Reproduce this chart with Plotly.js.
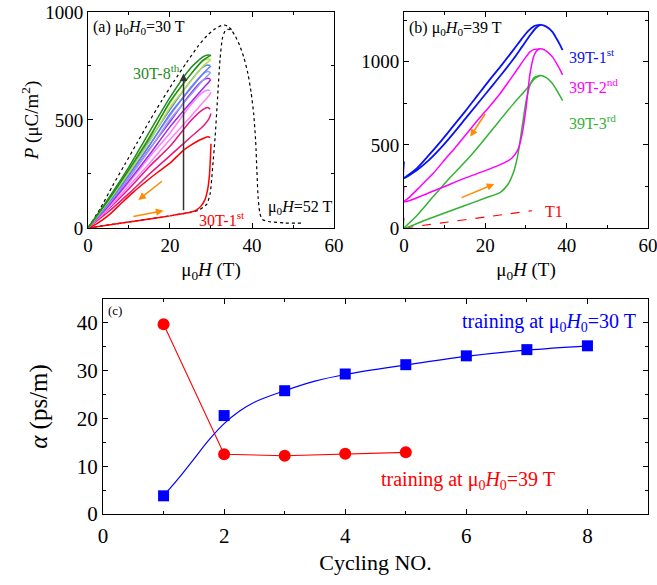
<!DOCTYPE html>
<html><head><meta charset="utf-8">
<script src="https://cdn.plot.ly/plotly-3.0.1.min.js"></script>
<style>html,body{margin:0;padding:0;background:#fff}#plot{width:657px;height:585px}</style>
</head><body><div id="plot"></div>
<script>
// ---------- Panel (a): training at 30 T ----------
const aUpH = [0,5,10,15,20,25,28,29.5,30];
const aDnH = [29.8,29.2,28,25,20,15,10,5,0];
const c2Up = [0,75,160,250,335,420,470,505,530];
const c2Dn = [550,558,548,495,378,285,182,88,0];
const c3Up = [0,92,195,300,410,515,580,612,628];
const c3Dn = [636,639,628,568,440,328,210,100,0];
const c4Up = [0,102,218,340,468,580,645,676,688];
const c4Dn = [690,693,683,622,492,365,232,108,0];
const c5Up = [0,110,233,362,502,615,683,712,720];
const c5Dn = [721,724,713,650,520,385,244,115,0];
const c6Up = [0,116,246,382,528,645,713,742,750];
const c6Dn = [752,755,745,680,548,405,256,121,0];
const c7Up = [0,124,258,400,558,678,748,772,780];
const c7Dn = [780,782,773,710,578,425,270,129,0];
const c8Up = [0,130,270,418,585,710,776,795,800];
const c8Dn = [800,801,792,740,605,445,283,137,0];
const redUpH = [0,5,10,15,20,23,25,26.5,27.5,28.5,29.2,29.6,29.85,30];
const redUpP = [0,14,28,42,56,66,73,84,100,130,180,240,320,390];
const redDnH = [29.8,29.3,28.5,27,25,23,20,17,14,11,8,5,2,0];
const redDnP = [418,422,418,405,382,355,300,258,213,165,112,58,18,0];
const dashUpH = [0,10,20,25,27,28,29,29.8,30.4,31,31.6,32.2,32.8,33.5,34.2,35,36,37,38,39,39.8,40.4,40.9,41.2,41.5,41.9,42.5,44,48,52];
const dashUpP = [0,28,56,73,82,95,110,160,280,420,600,780,880,915,920,915,885,845,790,715,625,530,400,260,140,70,40,30,23,22];
const dashDnH = [35,34,33,31,29,27,24,21,18,15,12,9,6,3,0];
const dashDnP = [918,935,940,922,890,845,765,680,590,495,395,295,195,90,0];

// ---------- Panel (b): training at 39 T ----------
const b1UpH = [0,0,3,6,9,12,15,18,21,24,27,29,31,32.5,33.6,35,36.5,37.5,38.3,39];
const b1UpP = [400,300,345,405,480,565,655,745,835,925,1020,1090,1160,1205,1222,1212,1180,1140,1105,1070];
const b1DnH = [33.6,32,30.5,29,27,24,21,18,15,12,9,6,3,0];
const b1DnP = [1224,1215,1185,1140,1075,980,890,795,700,610,520,435,355,300];
const b2UpH = [0,0,5,10,15,20,24.5,26.5,28,29,30,31,32,33,34,35,36.5,38,39];
const b2UpP = [250,158,200,250,300,345,390,420,470,560,720,930,1040,1075,1077,1065,1030,970,922];
const b2DnH = [33.3,32,31,30,28,26,23.7,21,18,15.5,13,10,7.2,4,1.5,0];
const b2DnP = [1077,1075,1060,1030,960,890,811,730,645,570,495,410,329,250,189,160];
const b3UpH = [0,0,5,10,15,20,23.7,25.5,27,28,29,30,31,32,33.5,35,36.5,38,39];
const b3UpP = [60,0,45,90,135,180,215,260,340,440,600,760,860,905,918,905,870,810,767];
const b3DnH = [33.5,32,30.3,27,23.7,19,15.5,11,7.2,3,0];
const b3DnP = [918,895,841,750,652,510,410,295,189,70,0];
const t1H = [0,10,20,31.5];
const t1P = [0,33,66,104];

// ---------- Panel (c): alpha vs cycling ----------
const cyc30 = [1,2,3,4,5,6,7,8];
const alpha30 = [3.8,20.6,25.8,29.3,31.25,33.1,34.4,35.2];
const cyc39 = [1,2,3,4,5];
const alpha39 = [39.7,12.5,12.2,12.6,12.9];
const fitX = [1,1.25,1.5,1.75,2,2.25,2.5,3,3.5,4,5,6,7,8];
const fitY = [3.8,7.5,11.5,15.5,18.9,21.5,23.4,25.8,27.8,29.2,31.2,33.0,34.3,35.2];

const FONT = 'Liberation Serif, "Times New Roman", serif';
const traces = [];
function ln(x, y, color, xa, ya, extra) {
  traces.push({x: x, y: y, mode: 'lines', xaxis: xa, yaxis: ya, hoverinfo: 'skip',
    line: Object.assign({color: color, width: 1.5, shape: 'spline', smoothing: 0.6}, extra || {})});
}
// panel a
ln(dashUpH, dashUpP, '#000', 'x', 'y', {dash: 'dot', width: 1.2});
ln(dashDnH, dashDnP, '#000', 'x', 'y', {dash: 'dot', width: 1.2});
ln(redUpH, redUpP, '#ff0000', 'x', 'y');
ln(redDnH, redDnP, '#ff0000', 'x', 'y');
const loops = [[c2Up,c2Dn,'#e8177f'],[c3Up,c3Dn,'#ff80ff'],[c4Up,c4Dn,'#9a2be2'],
  [c5Up,c5Dn,'#9a9aff'],[c6Up,c6Dn,'#5c7cf5'],[c7Up,c7Dn,'#b3e048'],[c8Up,c8Dn,'#1e8c1e']];
loops.forEach(function(l){ ln(aUpH, l[0], l[2], 'x', 'y'); ln(aDnH, l[1], l[2], 'x', 'y'); });
// panel b
ln(t1H, t1P, '#ff0000', 'x2', 'y2', {dash: 'dash', width: 1.1});
ln(b3UpH, b3UpP, '#33b233', 'x2', 'y2');
ln(b3DnH, b3DnP, '#33b233', 'x2', 'y2');
ln(b2UpH, b2UpP, '#ff00ff', 'x2', 'y2');
ln(b2DnH, b2DnP, '#ff00ff', 'x2', 'y2');
ln(b1UpH, b1UpP, '#0a14f0', 'x2', 'y2', {width: 1.8});
ln(b1DnH, b1DnP, '#0a14f0', 'x2', 'y2', {width: 1.8});
// panel c
traces.push({x: cyc39, y: alpha39, mode: 'lines+markers', xaxis: 'x3', yaxis: 'y3',
  line: {color: '#ff0000', width: 1.1}, marker: {symbol: 'circle', size: 12, color: '#ff0000'}});
traces.push({x: fitX, y: fitY, mode: 'lines', xaxis: 'x3', yaxis: 'y3',
  line: {color: '#0000ff', width: 1.2, shape: 'spline'}});
traces.push({x: cyc30, y: alpha30, mode: 'markers', xaxis: 'x3', yaxis: 'y3',
  marker: {symbol: 'square', size: 11, color: '#0000ff'}});

const tickF = {family: FONT, size: 19, color: '#000'};
const tickC = {family: FONT, size: 21, color: '#000'};
const titleF = {family: FONT, size: 19, color: '#000'};
function ax(extra) {
  return Object.assign({showline: true, linecolor: '#000', linewidth: 1, mirror: 'allticks',
    ticks: 'inside', ticklen: 5, tickcolor: '#000', showgrid: false, zeroline: false,
    ticklabeloverflow: 'allow', tickfont: tickF, automargin: false, fixedrange: true}, extra);
}
const layout = {
  width: 657, height: 585, margin: {l: 0, r: 0, t: 0, b: 0},
  paper_bgcolor: '#fff', plot_bgcolor: '#fff', showlegend: false,
  font: {family: FONT, color: '#000'},
  xaxis: ax({domain: [0.1339, 0.5084], range: [0, 60], anchor: 'y', dtick: 20,
    minor: {dtick: 10, ticks: 'inside', ticklen: 3, tickcolor: '#000'},
    title: {text: 'μ<sub>0</sub><i>H</i> (T)', font: titleF, standoff: 7}}),
  yaxis: ax({domain: [0.6103, 0.9795], range: [0, 1000], anchor: 'x', dtick: 500,
    minor: {dtick: 250, ticks: 'inside', ticklen: 3, tickcolor: '#000'},
    title: {text: '<i>P</i> (μC/m<sup>2</sup>)', font: titleF, standoff: 1}}),
  xaxis2: ax({domain: [0.6149, 0.9863], range: [0, 60], anchor: 'y2', dtick: 20,
    minor: {dtick: 10, ticks: 'inside', ticklen: 3, tickcolor: '#000'},
    title: {text: 'μ<sub>0</sub><i>H</i> (T)', font: titleF, standoff: 7}}),
  yaxis2: ax({domain: [0.6103, 0.9795], range: [0, 1300], anchor: 'x2', dtick: 500,
    minor: {dtick: 250, ticks: 'inside', ticklen: 3, tickcolor: '#000'}}),
  xaxis3: ax({domain: [0.1568, 0.9863], range: [0, 9], anchor: 'y3', dtick: 2, tickfont: tickC,
    ticklabelstandoff: 3,
    minor: {dtick: 1, ticks: 'inside', ticklen: 3, tickcolor: '#000'},
    title: {text: 'Cycling NO.', font: {family: FONT, size: 22, color: '#000'}, standoff: 7}}),
  yaxis3: ax({domain: [0.1214, 0.4889], range: [0, 45], anchor: 'x3', dtick: 10, tickfont: tickC,
    minor: {dtick: 5, ticks: 'inside', ticklen: 3, tickcolor: '#000'},
    title: {text: '<i>α</i> (ps/m)', font: {family: FONT, size: 25, color: '#000'}, standoff: 22}}),
  annotations: [
    {xref: 'x', yref: 'y', x: 0.8, y: 926, xanchor: 'left', yanchor: 'middle', showarrow: false,
     text: '(a) μ<sub>0</sub><i>H</i><sub>0</sub>=30 T', font: {family: FONT, size: 16, color: '#000'}},
    {xref: 'x', yref: 'y', x: 23, y: 722, xanchor: 'right', yanchor: 'middle', showarrow: false,
     text: '30T-8<sup>th</sup>', font: {family: FONT, size: 16, color: '#1e8c1e'}},
    {xref: 'x', yref: 'y', x: 26.5, y: 40, xanchor: 'left', yanchor: 'middle', showarrow: false,
     text: '30T-1<sup>st</sup>', font: {family: FONT, size: 16, color: '#ff0000'}},
    {xref: 'x', yref: 'y', x: 43.5, y: 95, xanchor: 'left', yanchor: 'middle', showarrow: false,
     text: 'μ<sub>0</sub><i>H</i>=52 T', font: {family: FONT, size: 16, color: '#000'}},
    {xref: 'x', yref: 'y', x: 23.3, y: 715, ax: 23.3, ay: 75, axref: 'x', ayref: 'y', text: '',
     showarrow: true, arrowhead: 2, arrowsize: 1, arrowwidth: 1.5, arrowcolor: '#333'},
    {xref: 'x', yref: 'y', x: 18.4, y: 80, ax: 10.7, ay: 52, axref: 'x', ayref: 'y', text: '',
     showarrow: true, arrowhead: 2, arrowsize: 1, arrowwidth: 1.5, arrowcolor: '#ff8c00'},
    {xref: 'x', yref: 'y', x: 12.3, y: 130, ax: 18.4, ay: 222, axref: 'x', ayref: 'y', text: '',
     showarrow: true, arrowhead: 2, arrowsize: 1, arrowwidth: 1.5, arrowcolor: '#ff8c00'},
    {xref: 'x2', yref: 'y2', x: 0.8, y: 1203, xanchor: 'left', yanchor: 'middle', showarrow: false,
     text: '(b) μ<sub>0</sub><i>H</i><sub>0</sub>=39 T', font: {family: FONT, size: 16, color: '#000'}},
    {xref: 'x2', yref: 'y2', x: 40.2, y: 1034, xanchor: 'left', yanchor: 'middle', showarrow: false,
     text: '39T-1<sup>st</sup>', font: {family: FONT, size: 16, color: '#0a14f0'}},
    {xref: 'x2', yref: 'y2', x: 40.2, y: 852, xanchor: 'left', yanchor: 'middle', showarrow: false,
     text: '39T-2<sup>nd</sup>', font: {family: FONT, size: 16, color: '#ff00ff'}},
    {xref: 'x2', yref: 'y2', x: 40.2, y: 635, xanchor: 'left', yanchor: 'middle', showarrow: false,
     text: '39T-3<sup>rd</sup>', font: {family: FONT, size: 16, color: '#33b233'}},
    {xref: 'x2', yref: 'y2', x: 34.3, y: 97, xanchor: 'left', yanchor: 'middle', showarrow: false,
     text: 'T1', font: {family: FONT, size: 16, color: '#ff0000'}},
    {xref: 'x2', yref: 'y2', x: 16.3, y: 550, ax: 20.2, ay: 695, axref: 'x2', ayref: 'y2', text: '',
     showarrow: true, arrowhead: 2, arrowsize: 1, arrowwidth: 1.5, arrowcolor: '#ff8c00'},
    {xref: 'x2', yref: 'y2', x: 22.2, y: 265, ax: 13.8, ay: 179, axref: 'x2', ayref: 'y2', text: '',
     showarrow: true, arrowhead: 2, arrowsize: 1, arrowwidth: 1.5, arrowcolor: '#ff8c00'},
    {xref: 'x3', yref: 'y3', x: 0.05, y: 42.5, xanchor: 'left', yanchor: 'middle', showarrow: false,
     text: '(c)', font: {family: FONT, size: 13, color: '#000'}},
    {xref: 'x3', yref: 'y3', x: 5.9, y: 40, xanchor: 'left', yanchor: 'middle', showarrow: false,
     text: 'training at μ<sub>0</sub><i>H</i><sub>0</sub>=30 T', font: {family: FONT, size: 20, color: '#0000ff'}},
    {xref: 'x3', yref: 'y3', x: 4.55, y: 7.1, xanchor: 'left', yanchor: 'middle', showarrow: false,
     text: 'training at μ<sub>0</sub><i>H</i><sub>0</sub>=39 T', font: {family: FONT, size: 20, color: '#ff0000'}}
  ]
};
Plotly.newPlot('plot', traces, layout, {displayModeBar: false, staticPlot: true});
</script></body></html>
